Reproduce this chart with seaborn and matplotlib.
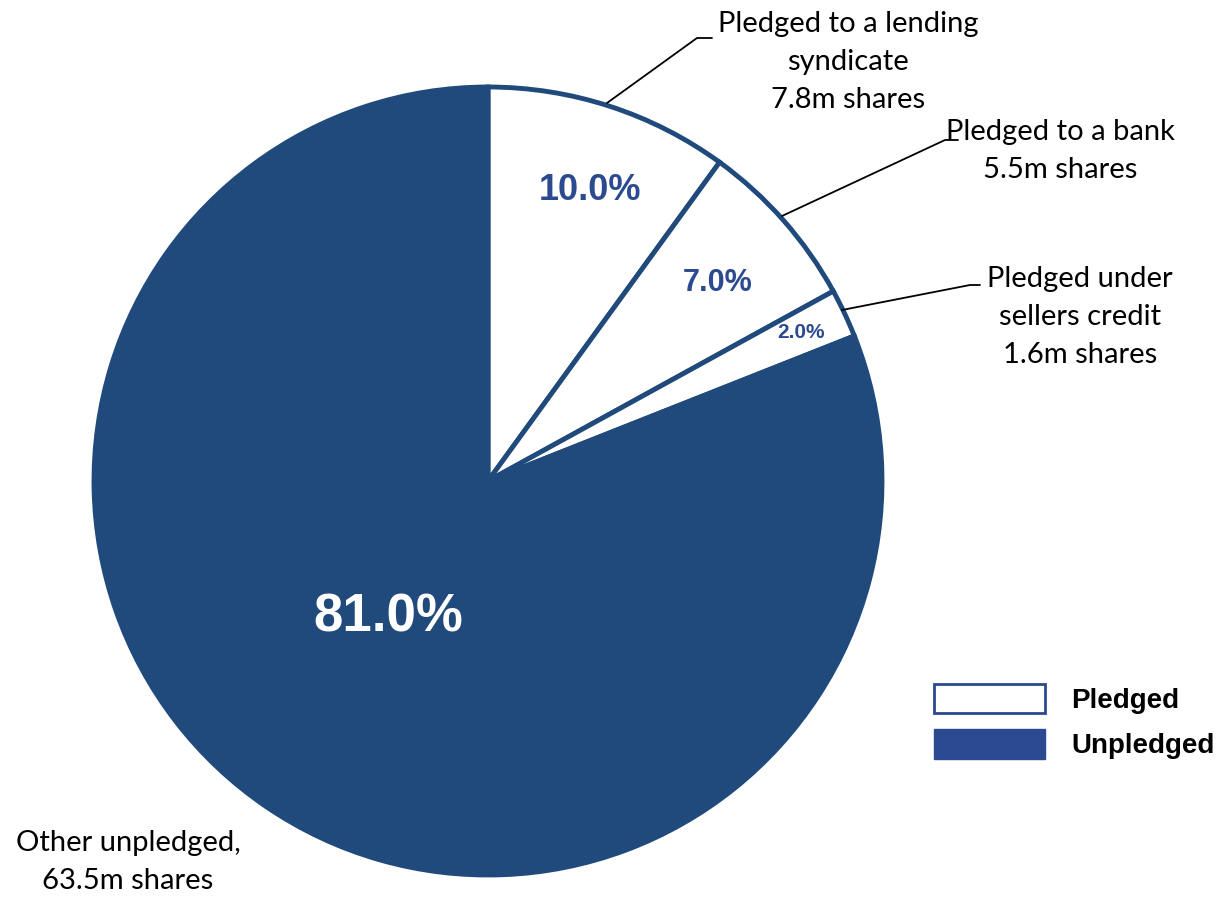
import matplotlib
matplotlib.use("Agg")
import matplotlib.pyplot as plt
from matplotlib.patches import Patch
import seaborn as sns

sns.set_theme(style="white")
plt.rcParams["font.family"] = ["Lato", "DejaVu Sans"]

# Share structure
segments = ["Pledged to a lending\nsyndicate", "Pledged to a bank", "Pledged under\nsellers credit", "Other unpledged,"]
shares_m = [7.8, 5.5, 1.6, 63.5]
percent = [10.0, 7.0, 2.0, 81.0]
pledged = [True, True, True, False]
legend_labels = ["Pledged", "Unpledged"]

PIE_BLUE = "#214A7C"
TEXT_BLUE = "#2B4A8F"

W, H = 1228, 899
fig = plt.figure(figsize=(W / 100, H / 100), dpi=100)
ax = fig.add_axes([0, 0, 1, 1])
ax.set_xlim(0, W)
ax.set_ylim(0, H)
ax.set_aspect("equal")
ax.axis("off")

cx, cy, r = 488, H - 481, 394
colors = ["white" if p else PIE_BLUE for p in pledged]
wedges, _ = ax.pie(
    percent, colors=colors, startangle=90, counterclock=False,
    center=(cx, cy), radius=r, frame=True,
    wedgeprops=dict(edgecolor=PIE_BLUE, linewidth=3.5),
)
ax.set_xlim(0, W)
ax.set_ylim(0, H)
ax.axis("off")

# percentage labels inside the slices
pct_style = [
    dict(xy=(590, 190), size=26, color=TEXT_BLUE),
    dict(xy=(718, 283), size=22, color=TEXT_BLUE),
    dict(xy=(801, 333), size=15, color=TEXT_BLUE),
    dict(xy=(388, 617), size=38, color="white"),
]
for val, st in zip(percent, pct_style):
    ax.text(st["xy"][0], H - st["xy"][1], f"{val:.1f}%", ha="center", va="center",
            fontsize=st["size"], fontweight="bold", color=st["color"],
            family=["Liberation Sans", "DejaVu Sans"])

# outside labels with leader lines
label_pos = [(848, 62), (1060, 151), (1080, 317), (128, 862)]
leaders = [
    [(607, 103), (697, 38), (712, 38)],
    [(782, 216), (945, 140), (958, 140)],
    [(842, 310), (970, 285), (980, 285)],
    None,
]
for name, val, pos, lead in zip(segments, shares_m, label_pos, leaders):
    txt = f"{name}\n{val:.1f}m shares"
    ax.text(pos[0], H - pos[1], txt, ha="center", va="center", fontsize=21,
            linespacing=1.58, color="black")
    if lead:
        xs = [p[0] for p in lead]
        ys = [H - p[1] for p in lead]
        ax.plot(xs, ys, color="black", linewidth=1.3)

handles = [
    Patch(facecolor="white", edgecolor=TEXT_BLUE, linewidth=2),
    Patch(facecolor=TEXT_BLUE, edgecolor=TEXT_BLUE),
]
ax.legend(handles, legend_labels, loc="upper left",
          bbox_to_anchor=(934 / W, 1 - 684 / H), frameon=False, borderpad=0,
          borderaxespad=0, handlelength=4.0, handleheight=1.25, labelspacing=0.55,
          handletextpad=0.95, labelcolor="black",
          prop=dict(family=["Liberation Sans", "DejaVu Sans"], weight="bold", size=20))

fig.savefig("out.png", dpi=100)
